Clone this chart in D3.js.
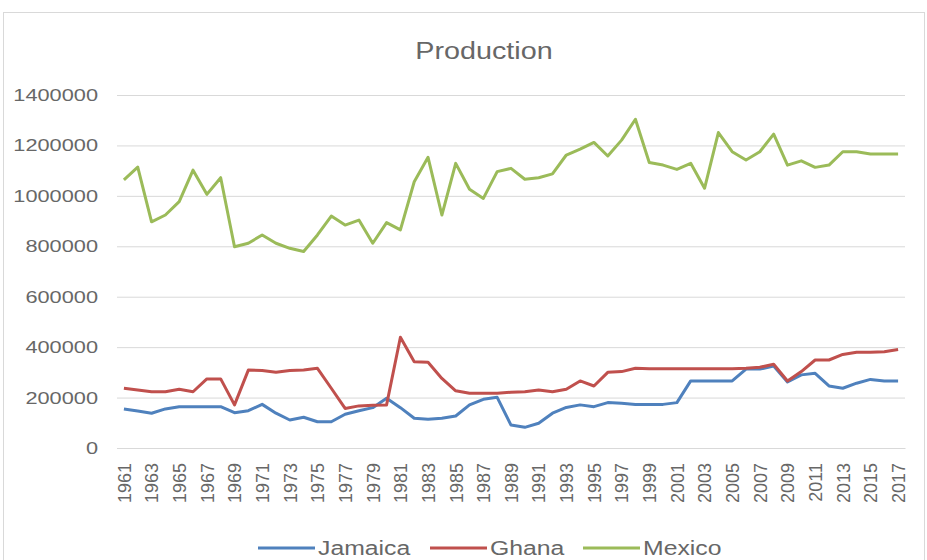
<!DOCTYPE html>
<html>
<head>
<meta charset="utf-8">
<script src="https://cdn.jsdelivr.net/npm/d3@7"></script>
<style>
  body { margin: 0; background: #fff; }
  text { font-family: "Liberation Sans", Arial, sans-serif; fill: #676767; }
</style>
</head>
<body>
<div id="chart"></div>
<script>
    var width = 927;
    var height = 560;

    // years on the category axis, every second one gets a label
    var years = d3.range(1961, 2018);
    var yearLabels = years.filter(function(y) { return (y - 1961) % 2 == 0; });
    var yTicks = [0, 200000, 400000, 600000, 800000, 1000000, 1200000, 1400000];

    var seriesNames = ["Jamaica", "Ghana", "Mexico"];
    var seriesColors = ["#4f81bd", "#c0504d", "#9bbb59"];

    // values
    var jamaica = [155000, 147000, 138000, 155000, 164000, 164000, 164000, 164000, 140000, 148000,
                   173000, 138000, 111000, 122000, 104000, 104000, 134000, 148000, 160000,
                   197000, 160000, 118000, 114000, 118000, 127000, 171000, 193000, 201000, 91000,
                   82000, 98000, 138000, 161000, 171000, 164000, 180000, 177000, 173000, 173000,
                   173000, 180000, 266000, 266000, 266000, 266000, 313000, 313000, 325000, 262000,
                   290000, 296000, 246000, 237000, 257000, 272000, 266000, 266000];
    var ghana = [237000, 230000, 223000, 223000, 233000, 223000, 274000, 274000, 171000, 309000,
                 307000, 300000, 307000, 309000, 316000, 237000, 157000, 167000, 170000,
                 171000, 439000, 342000, 340000, 276000, 227000, 217000, 217000, 217000, 221000,
                 223000, 230000, 223000, 233000, 266000, 246000, 300000, 303000, 316000, 314000,
                 314000, 314000, 314000, 314000, 314000, 314000, 316000, 320000, 332000, 266000,
                 303000, 349000, 349000, 371000, 380000, 380000, 382000, 391000];
    var mexico = [1063000, 1114000, 897000, 924000, 977000, 1102000, 1006000, 1072000, 798000, 812000,
                  845000, 812000, 792000, 779000, 845000, 920000, 884000, 904000, 812000,
                  894000, 865000, 1056000, 1153000, 924000, 1129000, 1026000, 990000, 1096000, 1109000,
                  1066000, 1072000, 1087000, 1162000, 1185000, 1212000, 1158000, 1221000, 1304000, 1132000,
                  1122000, 1105000, 1129000, 1030000, 1251000, 1175000, 1142000, 1175000, 1245000, 1122000,
                  1139000, 1113000, 1122000, 1175000, 1175000, 1166000, 1166000, 1166000];
    var seriesValues = [jamaica, ghana, mexico];

    // plot area (names chosen so they don't clash with window.top etc.)
    var plotLeft = 117, plotRight = 905, plotTop = 95, plotBottom = 448;

    var svg = d3.select("#chart")
                .append("svg")
                .attr("width", width)
                .attr("height", height);

    // chart frame
    svg.append("rect")
       .attr("x", 3.5).attr("y", 12.5)
       .attr("width", 921).attr("height", 560)
       .attr("fill", "none").attr("stroke", "#d9d9d9");

    var x = d3.scalePoint().domain(years).range([plotLeft, plotRight]).padding(0.5);
    var y = d3.scaleLinear().domain([0, 1400000]).range([plotBottom, plotTop]);

    // title, slightly stretched like the picture
    svg.append("text")
       .attr("transform", "translate(484,59) scale(1.25,1)")
       .attr("text-anchor", "middle")
       .style("font-size", "23px")
       .text("Production");

    // y axis with gridlines
    var yAxis = svg.append("g")
       .attr("transform", "translate(" + plotLeft + ",0)")
       .call(d3.axisLeft(y).tickValues(yTicks).tickSize(-(plotRight - plotLeft)).tickFormat(d3.format("d")));
    yAxis.select(".domain").remove();
    yAxis.selectAll(".tick line").attr("stroke", "#d9d9d9");
    yAxis.selectAll(".tick text")
       .attr("x", 0)
       .attr("transform", "translate(-19,0) scale(1.28,1)")
       .style("font-size", "17px");

    // x axis, labels turned upright
    var xAxis = svg.append("g")
       .attr("transform", "translate(0," + plotBottom + ")")
       .call(d3.axisBottom(x).tickValues(yearLabels).tickSize(0));
    xAxis.select(".domain").attr("stroke", "#d9d9d9");
    xAxis.selectAll(".tick text")
       .attr("transform", "rotate(-90)")
       .attr("text-anchor", "end")
       .attr("x", -15)
       .attr("y", 0)
       .attr("dy", "0.35em")
       .style("font-size", "18px");

    var line = d3.line()
       .x(function(d, i) { return x(years[i]); })
       .y(function(d) { return y(d); });

    for (var idx = 0; idx < seriesValues.length; idx++) {
        svg.append("path")
           .datum(seriesValues[idx])
           .attr("d", line)
           .attr("fill", "none")
           .attr("stroke", seriesColors[idx])
           .attr("stroke-width", 3)
           .attr("stroke-linejoin", "round");
    }

    // legend
    var legendX = [258, 430, 583];
    for (var k = 0; k < seriesNames.length; k++) {
        svg.append("line")
           .attr("x1", legendX[k]).attr("x2", legendX[k] + 57)
           .attr("y1", 548).attr("y2", 548)
           .attr("stroke", seriesColors[k])
           .attr("stroke-width", 3);
        svg.append("text")
           .attr("transform", "translate(" + (legendX[k] + 60) + ",555) scale(1.18,1)")
           .style("font-size", "21px")
           .text(seriesNames[k]);
    }
</script>
</body>
</html>
